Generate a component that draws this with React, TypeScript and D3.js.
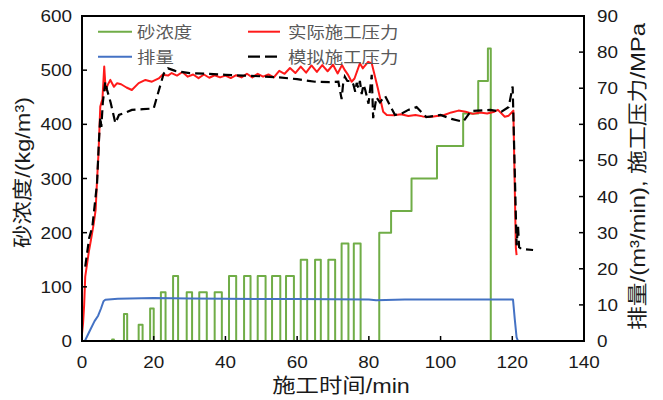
import React from 'react';
import * as d3 from 'd3';

// sand concentration pulses (kg/m3), time in min
const sandPulseStart = [8.4, 11.7, 15.8, 19.0, 22.0, 25.4, 29.2, 32.7, 37.0, 41.0, 45.2, 49.0, 53.0, 56.9, 61.0, 65.0, 68.7, 72.4, 75.8];
const sandPulseEnd = [8.9, 12.6, 16.9, 20.0, 23.3, 26.8, 30.7, 34.8, 39.0, 43.0, 47.0, 51.2, 55.3, 59.1, 62.8, 66.6, 70.6, 74.3, 77.7];
const sandPulseValue = [3, 50, 30, 60, 90, 120, 90, 90, 90, 120, 120, 120, 120, 120, 150, 150, 150, 180, 180];
// continuous stages
const sandStageTime = [82.9, 86.2, 91.9, 99.0, 106.3, 110.5, 113.2, 114.0];
const sandStageValue = [200, 240, 300, 360, 420, 480, 540, 0];
const sandEndTime = 121;

// displacement (m3/min)
const rateTime = [0, 0.8, 2, 3.5, 4.5, 5.3, 6, 6.5, 10, 20, 30, 40, 60, 80, 82, 90, 110, 120.2, 120.7, 121.2, 121.6];
const rateValue = [0, 0, 2.5, 5.5, 7, 9, 11, 11.4, 11.7, 11.9, 11.8, 11.7, 11.6, 11.5, 11.3, 11.5, 11.5, 11.5, 6, 1, 0];

// actual pressure (MPa)
const actualTime = [0, 0.3, 0.6, 0.9, 1.9, 2.5, 3.3, 3.8, 4.2, 4.6, 5.1, 5.7, 6.2, 6.6, 7.2, 7.9, 8.9, 9.8, 10.9, 12.4, 13.9, 15.8, 17.7, 19.5, 21.4, 22.4, 24, 25, 26.5, 28, 29.5, 31, 32.5, 34, 35.5, 37, 38.5, 40, 41.5, 43, 44.5, 46, 47.5, 49, 50.5, 52, 53.5, 55, 56.5, 58, 59.5, 61, 62.5, 64, 65.5, 67, 68.5, 70, 71.3, 72.5, 73.3, 74.2, 75.2, 76, 77.5, 78.3, 79.8, 80.8, 82.5, 84, 85, 87, 89, 91, 93, 95, 97, 99, 101, 103, 105, 107, 109, 111, 113, 115, 116, 117.9, 119, 120.3, 121, 121.2];
const actualValue = [2, 5, 10, 17.8, 24.7, 28, 32.7, 36.3, 44.6, 52, 64.9, 67, 76, 69.5, 71, 72.3, 70.4, 71.4, 71.1, 70.2, 69.5, 71.4, 72.3, 71.8, 72.7, 73.7, 73.5, 74.2, 73.5, 74.5, 73.2, 73.8, 72.8, 73.8, 72.9, 73.6, 73, 73.5, 72.8, 73.6, 73, 74, 73, 74, 73.2, 73.8, 73, 74.8, 74, 75.6, 74.2, 76, 74.3, 76.3, 74.5, 76.4, 74.7, 76.5, 74.1, 76.4, 75, 73.7, 71.8, 72.7, 76.9, 75.5, 77.3, 76.9, 70, 63.5, 62.6, 62.5, 62.8, 62.3, 62.6, 62.2, 62, 62.3, 62.6, 63.3, 63.8, 63.5, 62.9, 63.3, 63, 63.5, 64, 62.1, 62.4, 63.8, 25.7, 23.8];

// simulated pressure (MPa)
const simTime = [0.9, 2.0, 2.9, 3.6, 4.2, 4.7, 5.1, 5.4, 5.8, 6.5, 7.0, 8, 9.3, 10.3, 12, 13.9, 17, 20, 21.2, 22.8, 24, 26, 30, 35, 40, 45, 50, 55, 60, 65, 69, 71.5, 72.4, 72.8, 73.3, 74, 75.2, 75.7, 76.2, 76.6, 77.1, 77.5, 78, 78.5, 79, 79.9, 80.8, 81.2, 82.1, 83.1, 84.5, 85.9, 87.3, 89.2, 91, 93.3, 96, 100, 103, 106.3, 108.5, 113.8, 117, 119, 120.1, 121.2, 121.6, 121.9, 122.5, 125.8];
const simValue = [20.6, 28.5, 31.7, 38.2, 43.7, 55, 62, 59.3, 66, 71.8, 69.5, 66, 60.3, 62.6, 63.2, 64, 64.2, 64.4, 68.6, 74.1, 75.5, 74.8, 74.2, 74, 73.7, 73.5, 73.3, 73, 72.5, 71.8, 71.7, 71.8, 67, 71, 73.2, 72, 72, 71, 69, 71.5, 70, 72, 68.4, 71, 69.5, 65.7, 73.7, 61.7, 67.5, 66.1, 67.9, 65.2, 62.6, 63, 64, 64.8, 62, 62.6, 61.5, 60.7, 63.7, 64, 63.5, 64.8, 70.5, 26.5, 32, 26, 25.5, 25.2];

const xTicks = [0, 20, 40, 60, 80, 100, 120, 140];
const leftTicks = [0, 100, 200, 300, 400, 500, 600];
const rightTicks = [0, 10, 20, 30, 40, 50, 60, 70, 80, 90];

const W = 663;
const H = 400;
const M = { left: 82, right: 584, top: 16, bottom: 341 };
const FONT = '"Liberation Sans", Arial, "Noto Sans CJK SC", sans-serif';
const SX = 1.18;

const GREEN = '#70AD47';
const BLUE = '#4472C4';
const RED = '#FF1A1A';

type P = [number, number];

const App: React.FC = () => {
  const x = d3.scaleLinear().domain([0, 140]).range([M.left, M.right]);
  const yL = d3.scaleLinear().domain([0, 600]).range([M.bottom, M.top]);
  const yR = d3.scaleLinear().domain([0, 90]).range([M.bottom, M.top]);

  const sandPts: P[] = [[0, 0]];
  sandPulseStart.forEach((s, i) => {
    sandPts.push([s, 0], [s, sandPulseValue[i]], [sandPulseEnd[i], sandPulseValue[i]], [sandPulseEnd[i], 0]);
  });
  let prev = 0;
  sandStageTime.forEach((t, i) => {
    sandPts.push([t, prev], [t, sandStageValue[i]]);
    prev = sandStageValue[i];
  });
  sandPts.push([sandEndTime, prev]);

  const lineL = d3.line<P>().x(d => x(d[0])).y(d => yL(d[1]));
  const lineR = d3.line<P>().x(d => x(d[0])).y(d => yR(d[1]));

  const ratePts: P[] = rateTime.map((t, i) => [t, rateValue[i]]);
  const actualPts: P[] = actualTime.map((t, i) => [t, actualValue[i]]);
  const simPts: P[] = simTime.map((t, i) => [t, simValue[i]]);

  const tickText = (key: string, tx: number, ty: number, anchor: string, label: string) => (
    <text
      key={key}
      transform={`translate(${tx},${ty}) scale(${SX},1)`}
      textAnchor={anchor}
      fontSize={16}
      fill="#1a1a1a"
    >
      {label}
    </text>
  );

  return (
    <svg width={W} height={H} style={{ position: 'absolute', left: 0, top: 0 }} fontFamily={FONT}>
      <rect width={W} height={H} fill="#fff" />

      {/* series */}
      <path d={lineL(sandPts) ?? ''} fill="none" stroke={GREEN} strokeWidth={2} strokeLinejoin="round" />
      <path d={lineR(ratePts) ?? ''} fill="none" stroke={BLUE} strokeWidth={2} strokeLinejoin="round" />
      <path d={lineR(actualPts) ?? ''} fill="none" stroke={RED} strokeWidth={2} strokeLinejoin="round" />
      <path d={lineR(simPts) ?? ''} fill="none" stroke="#000" strokeWidth={2.2} strokeDasharray="9,5" />

      {/* frame */}
      <rect x={M.left} y={M.top} width={M.right - M.left} height={M.bottom - M.top} fill="none" stroke="#000" strokeWidth={2} />

      {/* ticks */}
      {xTicks.map(t => (
        <line key={`xt${t}`} x1={x(t)} x2={x(t)} y1={M.bottom} y2={M.bottom - 5} stroke="#000" strokeWidth={1.5} />
      ))}
      {leftTicks.map(t => (
        <line key={`lt${t}`} x1={M.left} x2={M.left + 5} y1={yL(t)} y2={yL(t)} stroke="#000" strokeWidth={1.5} />
      ))}
      {rightTicks.map(t => (
        <line key={`rt${t}`} x1={M.right} x2={M.right - 5} y1={yR(t)} y2={yR(t)} stroke="#000" strokeWidth={1.5} />
      ))}

      {/* tick labels */}
      {xTicks.map(t => tickText(`xl${t}`, x(t), 368, 'middle', String(t)))}
      {leftTicks.map(t => tickText(`ll${t}`, 72, yL(t) + 6, 'end', String(t)))}
      {rightTicks.map(t => tickText(`rl${t}`, 597, yR(t) + 6, 'start', String(t)))}

      {/* axis titles */}
      <text transform={`translate(341,393) scale(1.17,1)`} textAnchor="middle" fontSize={20} fill="#1a1a1a">
        施工时间/min
      </text>
      <text
        transform="translate(30,172.5) rotate(-90)"
        textAnchor="middle"
        fontSize={20}
        fill="#1a1a1a"
        textLength={151}
        lengthAdjust="spacingAndGlyphs"
      >
        砂浓度/(kg/m³)
      </text>
      <text
        transform="translate(645,176.5) rotate(-90)"
        textAnchor="middle"
        fontSize={20}
        fill="#1a1a1a"
        textLength={307}
        lengthAdjust="spacingAndGlyphs"
      >
        排量/(m³/min), 施工压力/MPa
      </text>

      {/* legend */}
      <g fontSize={16} fill="#595959">
        <line x1={98} x2={132} y1={31.7} y2={31.7} stroke={GREEN} strokeWidth={2} />
        <text transform={`translate(137,37.5) scale(1.15,1)`}>砂浓度</text>
        <line x1={98} x2={132} y1={56.7} y2={56.7} stroke={BLUE} strokeWidth={2} />
        <text transform={`translate(137,62.5) scale(1.15,1)`}>排量</text>
        <line x1={248} x2={280} y1={31.7} y2={31.7} stroke={RED} strokeWidth={2} />
        <text transform={`translate(288,37.5) scale(1.15,1)`}>实际施工压力</text>
        <line x1={248} x2={277} y1={56.7} y2={56.7} stroke="#000" strokeWidth={2.2} strokeDasharray="12,5" />
        <text transform={`translate(288,62.5) scale(1.15,1)`}>模拟施工压力</text>
      </g>
    </svg>
  );
};

export default App;
